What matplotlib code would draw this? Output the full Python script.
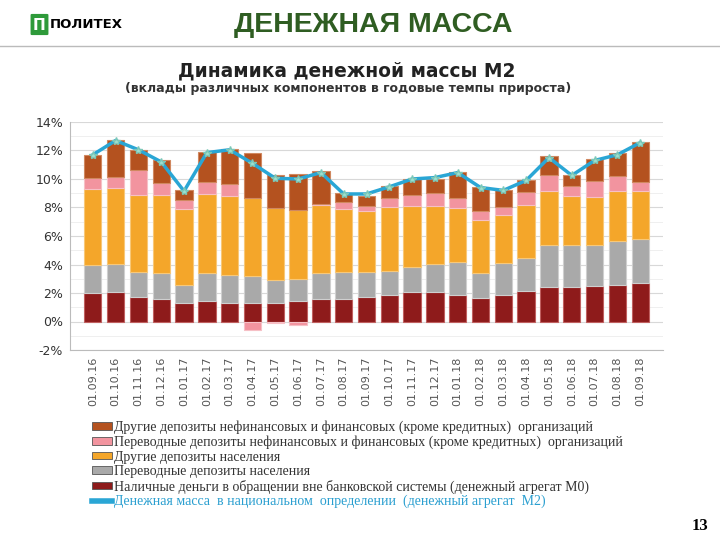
import numpy as np
import matplotlib
matplotlib.use('Agg')
import matplotlib.pyplot as plt
from matplotlib.patches import Patch, FancyBboxPatch
from matplotlib.lines import Line2D

# data: contributions to annual M2 growth, percentage points
dates = ['01.09.16', '01.10.16', '01.11.16', '01.12.16', '01.01.17', '01.02.17',
         '01.03.17', '01.04.17', '01.05.17', '01.06.17', '01.07.17', '01.08.17',
         '01.09.17', '01.10.17', '01.11.17', '01.12.17', '01.01.18', '01.02.18',
         '01.03.18', '01.04.18', '01.05.18', '01.06.18', '01.07.18', '01.08.18',
         '01.09.18']
cash_m0 = [2.0, 2.1, 1.7, 1.6, 1.33, 1.45, 1.28, 1.28, 1.33, 1.45, 1.59, 1.59,
           1.73, 1.87, 2.05, 2.1, 1.89, 1.63, 1.84, 2.15, 2.43, 2.43, 2.5, 2.57, 2.73]
hh_transfer = [2.0, 1.95, 1.8, 1.8, 1.26, 1.96, 1.99, 1.92, 1.61, 1.51, 1.84, 1.89,
               1.75, 1.68, 1.78, 1.96, 2.31, 1.8, 2.29, 2.33, 2.94, 2.94, 2.87, 3.08, 3.08]
hh_other = [5.3, 5.3, 5.4, 5.5, 5.32, 5.53, 5.53, 5.46, 4.99, 4.83, 4.78, 4.38,
            4.24, 4.5, 4.27, 4.04, 3.73, 3.66, 3.36, 3.73, 3.82, 3.43, 3.36, 3.5, 3.34]
org_transfer = [0.8, 0.8, 1.75, 0.8, 0.65, 0.86, 0.88, -0.62, -0.14, -0.25, 0.05, 0.54,
                0.42, 0.61, 0.79, 0.9, 0.75, 0.66, 0.54, 0.89, 1.12, 0.74, 1.16, 1.09, 0.63]
org_other = [1.6, 2.6, 1.35, 1.6, 0.66, 2.12, 2.45, 3.17, 2.38, 2.57, 2.33, 0.63,
             0.70, 0.84, 1.14, 1.03, 1.82, 1.7, 1.23, 0.86, 1.29, 0.77, 1.52, 1.59, 2.82]
m2 = [11.7, 12.7, 12.05, 11.2, 9.15, 11.85, 12.05, 11.1, 10.05, 10.0, 10.45, 8.95,
      8.95, 9.45, 10.0, 10.1, 10.45, 9.4, 9.2, 9.9, 11.5, 10.25, 11.3, 11.7, 12.55]

labels = ['Другие депозиты нефинансовых и финансовых (кроме кредитных)  организаций',
          'Переводные депозиты нефинансовых и финансовых (кроме кредитных)  организаций',
          'Другие депозиты населения',
          'Переводные депозиты населения',
          'Наличные деньги в обращении вне банковской системы (денежный агрегат М0)',
          'Денежная масса  в национальном  определении  (денежный агрегат  М2)']

fig = plt.figure(figsize=(7.2, 5.4), dpi=100)

# header
fig.add_artist(FancyBboxPatch((32/720, 1-34/540), 15/720, 19/540,
                              boxstyle='round,pad=0.002', transform=fig.transFigure,
                              facecolor='#2e9a3a', edgecolor='none'))
fig.text(39.5/720, 1-25/540, 'П', color='white', fontsize=11, fontweight='bold',
         ha='center', va='center')
fig.text(50/720, 1-24/540, 'ПОЛИТЕХ', fontsize=9.5, fontweight='bold', va='center')
fig.text(373/720, 1-25/540, 'ДЕНЕЖНАЯ МАССА', fontsize=20.5, fontweight='bold',
         color='#2f5d22', ha='center', va='center', family='Liberation Sans')
fig.add_artist(Line2D([0, 1], [1-46/540, 1-46/540], color='#bbbbbb', lw=1))
fig.text(347/720, 1-71/540, 'Динамика денежной массы М2', fontsize=13.4,
         fontweight='bold', ha='center', va='center', color='#222222')
fig.text(348/720, 1-89/540, '(вклады различных компонентов в годовые темпы прироста)',
         fontsize=9, fontweight='bold', ha='center', va='center', color='#333333')

ax = fig.add_axes([70/720, 1-350/540, 593/720, 228/540])
x = np.arange(len(dates))
series = [cash_m0, hh_transfer, hh_other, org_transfer, org_other]
colors = ['#8e1b1b', '#a9a9a9', '#f4a62a', '#f2949f', '#b4521f']
edges = ['#c06060', '#cfcfcf', '#f8c878', '#f6c0c6', '#d08860']
pos = np.zeros(len(x))
neg = np.zeros(len(x))
for vals, c, ec in zip(series, colors, edges):
    v = np.array(vals)
    bottom = np.where(v >= 0, pos, neg)
    ax.bar(x, v, 0.76, bottom=bottom, color=c, edgecolor=ec, linewidth=0.8, zorder=3)
    pos = pos + np.where(v >= 0, v, 0)
    neg = neg + np.where(v < 0, v, 0)

ax.plot(x, m2, color='#2aa6d5', lw=2.5, zorder=4)
ax.plot(x, m2, ls='none', marker='*', ms=6, color='#9fe0d0', mec='#7cc8b8', zorder=5)

ax.set_xlim(-1, len(x))
ax.set_ylim(-2, 14)
ax.set_yticks(np.arange(-2, 15, 2))
ax.set_yticklabels([f'{v}%' for v in range(-2, 15, 2)], fontsize=9, color='#333333')
ax.set_yticks(np.arange(-2, 15, 1), minor=True)
ax.grid(axis='y', which='major', color='#d8d8d8', lw=0.8, zorder=0)
ax.grid(axis='y', which='minor', color='#ececec', lw=0.6, zorder=0)
ax.set_xticks(x)
ax.set_xticklabels(dates, rotation=90, fontsize=8, color='#555555')
ax.tick_params(axis='both', which='both', length=0, pad=5)
for s in ['top', 'right']:
    ax.spines[s].set_visible(False)
ax.spines['left'].set_color('#bbbbbb')
ax.spines['bottom'].set_color('#bbbbbb')

handles = [Patch(facecolor=colors[i], edgecolor='#555555', lw=0.6) for i in [4, 3, 2, 1, 0]]
handles.append(Line2D([], [], color='#2aa6d5', lw=4))
leg = fig.legend(handles, labels, loc='upper left', bbox_to_anchor=(86/720, 1-415/540),
                 frameon=False, prop={'family': 'Liberation Serif', 'size': 10},
                 handlelength=1.5, handleheight=0.45, handletextpad=0.1,
                 labelspacing=0.1, borderaxespad=0)
for t in leg.get_texts():
    t.set_color('#333333')
leg.get_texts()[-1].set_color('#2a9fd0')

fig.text(700/720, 1-526/540, '13', fontsize=12, fontweight='bold',
         family='Liberation Serif', ha='center', va='center')

fig.savefig('out.png', dpi=100)
